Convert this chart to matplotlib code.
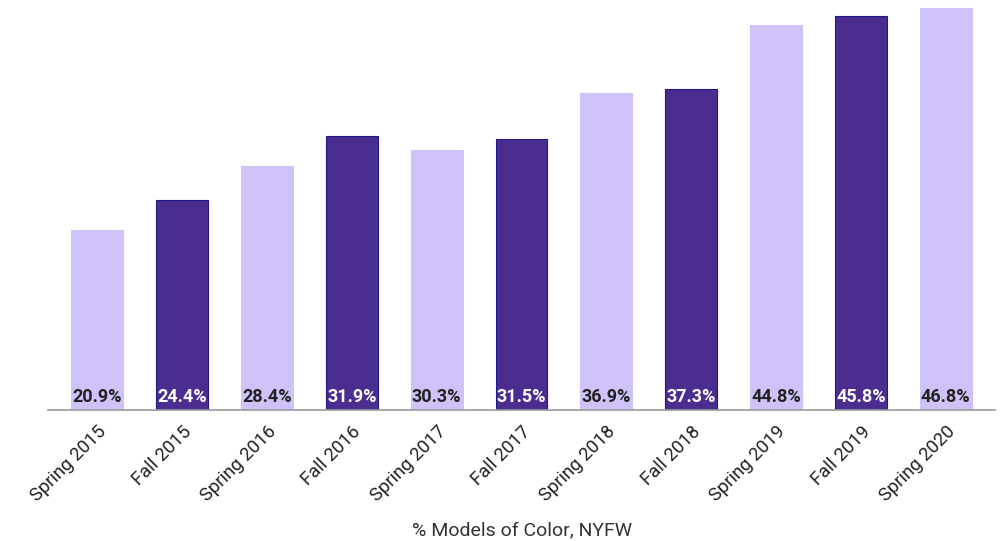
import numpy as np
import matplotlib.pyplot as plt

plt.rcParams['font.family'] = ['Roboto', 'DejaVu Sans']

# data
seasons = ['Spring 2015', 'Fall 2015', 'Spring 2016', 'Fall 2016', 'Spring 2017',
	'Fall 2017', 'Spring 2018', 'Fall 2018', 'Spring 2019', 'Fall 2019', 'Spring 2020']
pct = [20.9, 24.4, 28.4, 31.9, 30.3, 31.5, 36.9, 37.3, 44.8, 45.8, 46.8]

light = '#cfc2f8'
dark = '#4a2d8f'

fig = plt.figure(figsize=(10, 5.41), dpi=100)
ax = fig.add_axes([0.048, 0.242, 0.947, 0.747])

x = np.arange(len(seasons))
for i, v in enumerate(pct):
	is_dark = i % 2 == 1
	ax.bar(i, v, width=0.61, color=dark if is_dark else light,
		edgecolor='#1f1a8a' if is_dark else light, linewidth=0.8)
	ax.text(i, 0.45, f'{v:.1f}%', ha='center', va='bottom', fontsize=13,
		fontweight='bold', color='white' if is_dark else '#222222')

ax.set_xlim(-0.58, 10.58)
ax.set_ylim(0, 47)
ax.set_xticks(x)
ax.set_xticklabels(seasons, rotation=45, ha='right', rotation_mode='anchor',
	fontsize=13.3, color='#222222')
ax.tick_params(axis='x', length=0, pad=9)
ax.set_yticks([])
for s in ['top', 'right', 'left']:
	ax.spines[s].set_visible(False)
ax.spines['bottom'].set_color('#999999')
ax.spines['bottom'].set_linewidth(1.2)
ax.set_xlabel('% Models of Color, NYFW', fontsize=14, color='#333333', labelpad=12)

fig.savefig('out.png', dpi=100)
